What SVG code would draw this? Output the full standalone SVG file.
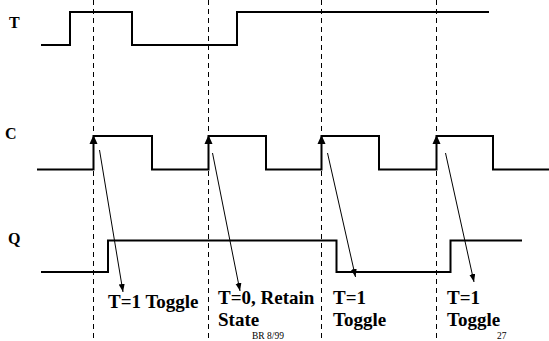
<svg xmlns="http://www.w3.org/2000/svg" width="549" height="341" viewBox="0 0 549 341">
<style>
.wave{fill:none;stroke:#000;stroke-width:2;stroke-linejoin:miter}
.dash{stroke:#000;stroke-width:1;stroke-dasharray:5,4}
.thin{stroke:#000;stroke-width:1}
text{font-family:'Liberation Serif','Times New Roman',Times,serif;fill:#000}
.lbl{font-weight:bold;font-size:16px}
.note{font-weight:bold;font-size:19px}
.small{font-size:9.5px}
</style>
<defs>
<marker id="ah" markerUnits="userSpaceOnUse" markerWidth="9" markerHeight="7" refX="8" refY="3" orient="auto">
<path d="M0,0 L8,3 L0,6 z" fill="#000"/>
</marker>
</defs>
<rect width="549" height="341" fill="#fff"/>
<g id="guides">
<line class="dash" x1="93.5" y1="0" x2="93.5" y2="341"/>
<line class="dash" x1="208.5" y1="0" x2="208.5" y2="341"/>
<line class="dash" x1="321.5" y1="0" x2="321.5" y2="341"/>
<line class="dash" x1="436.5" y1="0" x2="436.5" y2="341"/>
</g>
<g id="T">
<text class="lbl" x="9" y="28" font-family="Liberation Serif">T</text>
<polyline class="wave" points="41,45 70,45 70,12 132,12 132,45 237,45 237,12 489,12"/>
</g>
<g id="C">
<text class="lbl" x="5" y="139" font-family="Liberation Serif">C</text>
<polyline class="wave" points="37,169.5 93.5,169.5 93.5,136 152,136 152,169.5 208.5,169.5 208.5,136 266,136 266,169.5 321.5,169.5 321.5,136 379,136 379,169.5 436.5,169.5 436.5,136 493,136 493,169.5 549,169.5"/>
<polygon points="93.5,135 89.5,144 97.5,144" fill="#000"/>
<polygon points="208.5,135 204.5,144 212.5,144" fill="#000"/>
<polygon points="321.5,135 317.5,144 325.5,144" fill="#000"/>
<polygon points="436.5,135 432.5,144 440.5,144" fill="#000"/>
</g>
<g id="Q">
<text class="lbl" x="8" y="243.5" font-family="Liberation Serif">Q</text>
<polyline class="wave" points="41,272 108,272 108,240.5 336.5,240.5 336.5,272 450.5,272 450.5,240.5 522,240.5"/>
</g>
<g id="connectors">
<line class="thin" x1="99.5" y1="150" x2="123" y2="292" marker-end="url(#ah)"/>
<line class="thin" x1="212.5" y1="153" x2="240" y2="291" marker-end="url(#ah)"/>
<line class="thin" x1="327.5" y1="153" x2="355.5" y2="277" marker-end="url(#ah)"/>
<line class="thin" x1="445.5" y1="153" x2="474" y2="282" marker-end="url(#ah)"/>
</g>
<g id="labels">
<text class="note" x="108" y="308">T=1 Toggle</text>
<text class="note" x="218" y="304">T=0, Retain</text>
<text class="note" x="218" y="326">State</text>
<text class="note" x="333" y="304">T=1</text>
<text class="note" x="333" y="326">Toggle</text>
<text class="note" x="447" y="304">T=1</text>
<text class="note" x="447" y="326">Toggle</text>
<text class="small" x="252" y="339">BR 8/99</text>
<text class="small" x="497" y="339">27</text>
</g>
</svg>
